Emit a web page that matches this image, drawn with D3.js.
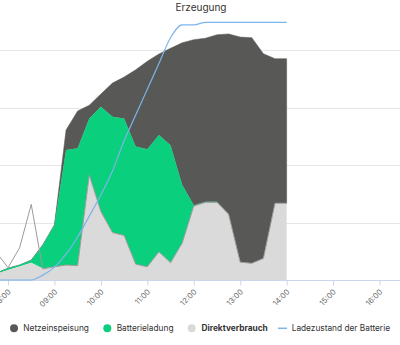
<!DOCTYPE html>
<html><head><meta charset="utf-8">
<script src="https://cdn.jsdelivr.net/npm/d3@7/dist/d3.min.js"></script>
<style>html,body{margin:0;padding:0;background:#fff;overflow:hidden}svg{display:block}</style>
</head><body>
<script>
const times = ["07:45","08:00","08:15","08:30","08:45","09:00","09:15","09:30","09:45","10:00","10:15","10:30","10:45","11:00","11:15","11:30","11:45","12:00","12:15","12:30","12:45","13:00","13:15","13:30","13:45","14:00"];
const direktverbrauch = [0.21,0.35,0.47,0.60,0.40,0.46,0.52,0.50,3.65,2.38,1.65,1.55,0.55,0.46,0.98,0.60,1.28,2.57,2.70,2.70,2.29,0.62,0.58,0.75,2.67,2.67];
const direktLinie    = [0.96,0.43,1.12,2.63,0.38,0.46,0.52,0.50,3.65,2.38,1.65,1.55,0.55,0.46,0.98,0.60,1.28,2.57,2.70,2.70,2.29,0.62,0.58,0.75,2.67,2.67];
const batterieladung = [0.03,0.06,0.05,0.09,0.82,1.45,4.00,4.08,1.97,3.65,4.03,4.07,4.09,4.09,4.06,4.09,2.03,0.03,0.02,0.02,0,0,0,0,0,0];
const netzeinspeisung = [0,0,0,0,0,0,0.70,1.30,0.46,0.44,1.17,1.44,2.67,3.06,2.82,3.37,4.94,5.76,5.69,5.81,6.27,7.83,7.85,7.12,5.03,5.03];
const ladezustand = [0,0,0,0,1.9,5,10,16.7,24.8,33,42.3,54,64,74,84,94,99,99,100,100,100,100,100,100,100,100];
const tickLabels = ["08:00","09:00","10:00","11:00","12:00","13:00","14:00","15:00","16:00"];
const yGrid = [2,4,6,8];
const seriesNames = ["Netzeinspeisung","Batterieladung","Direktverbrauch","Ladezustand der Batterie"];

const W = 400, H = 345;
const col = {netz:"#585856", batt:"#0acf7d", direkt:"#dadada", direktLine:"#9b9b9b", soc:"#7cb5ec", grid:"#e6e6e6", axis:"#ccd6eb"};
const toMin = s => { const [h,m] = s.split(":").map(Number); return h*60+m; };

const x = d3.scaleLinear().domain([toMin("08:00"), toMin("16:00")]).range([8, 379.5]);
const y = d3.scaleLinear().domain([0, 8]).range([280, 50]);
const y2 = d3.scaleLinear().domain([0, 100]).range([280, 22.3]);

const svg = d3.select("body").append("svg").attr("width", W).attr("height", H)
  .style("font-family", "Inter, 'Noto Sans', sans-serif");

svg.append("g").selectAll("line").data(yGrid).join("line")
  .attr("x1", 0).attr("x2", W).attr("y1", d => Math.round(y(d)) + 0.5).attr("y2", d => Math.round(y(d)) + 0.5)
  .attr("stroke", col.grid).attr("stroke-width", 1);

const rows = times.map((t, i) => ({
  t: toMin(t), d: direktverbrauch[i], dl: direktLinie[i],
  b: batterieladung[i], n: netzeinspeisung[i], s: ladezustand[i]
}));

const plot = svg.append("g");
plot.append("path").datum(rows)
  .attr("d", d3.area().x(r => x(r.t)).y0(r => y(r.d + r.b)).y1(r => y(r.d + r.b + r.n)))
  .attr("fill", col.netz).attr("stroke", col.netz).attr("stroke-width", 0.5);
plot.append("path").datum(rows)
  .attr("d", d3.area().x(r => x(r.t)).y0(r => y(r.d)).y1(r => y(r.d + r.b)))
  .attr("fill", col.batt);
plot.append("path").datum(rows)
  .attr("d", d3.area().x(r => x(r.t)).y0(y(0)).y1(r => y(r.d)))
  .attr("fill", col.direkt);
plot.append("path").datum(rows)
  .attr("d", d3.line().x(r => x(r.t)).y(r => y(r.dl)))
  .attr("fill", "none").attr("stroke", col.direktLine).attr("stroke-width", 1);

const xAxis = d3.axisBottom(x)
  .tickValues(tickLabels.map(toMin))
  .tickFormat((d, i) => tickLabels[i])
  .tickSizeOuter(0).tickSize(5);
const gx = svg.append("g").attr("transform", "translate(0,280.5)").call(xAxis);
gx.select(".domain").remove();
gx.append("line").attr("x1", 0).attr("x2", W).attr("y1", 0).attr("y2", 0).attr("stroke", col.axis);
gx.selectAll(".tick line").attr("stroke", col.axis);
gx.selectAll(".tick text")
  .attr("fill", "#666").style("font-size", "7.6px").style("font-family", "Inter, sans-serif")
  .attr("text-anchor", "end")
  .attr("x", 0).attr("y", 0).attr("dy", "0.35em")
  .attr("transform", "translate(1,10) rotate(-45)");

svg.append("path").datum(rows)
  .attr("d", d3.line().x(r => x(r.t)).y(r => y2(r.s)).curve(d3.curveMonotoneX))
  .attr("fill", "none").attr("stroke", col.soc).attr("stroke-width", 1.2);

svg.append("text").attr("x", 201).attr("y", 10.5).attr("text-anchor", "middle")
  .attr("fill", "#333").style("font-size", "10px").text("Erzeugung");

const legend = svg.append("g").style("font-size", "8.3px");
const legendItems = [
  {name: seriesNames[0], type: "dot", color: col.netz, mx: 14, tx: 23.3, bold: false},
  {name: seriesNames[1], type: "dot", color: col.batt, mx: 107.3, tx: 116.7, bold: false},
  {name: seriesNames[2], type: "dot", color: col.direkt, mx: 191.7, tx: 201.5, bold: true},
  {name: seriesNames[3], type: "line", color: col.soc, mx: 283, tx: 291.7, bold: false}
];
legendItems.forEach(it => {
  if (it.type === "dot") {
    legend.append("circle").attr("cx", it.mx).attr("cy", 328.3).attr("r", 4).attr("fill", it.color);
  } else {
    legend.append("line").attr("x1", it.mx - 5).attr("x2", it.mx + 4).attr("y1", 328.3).attr("y2", 328.3)
      .attr("stroke", it.color).attr("stroke-width", 1.5);
  }
  legend.append("text").attr("x", it.tx).attr("y", 331.3).attr("fill", "#333")
    .style("font-weight", it.bold ? "bold" : "normal").text(it.name);
});
</script>
</body></html>
